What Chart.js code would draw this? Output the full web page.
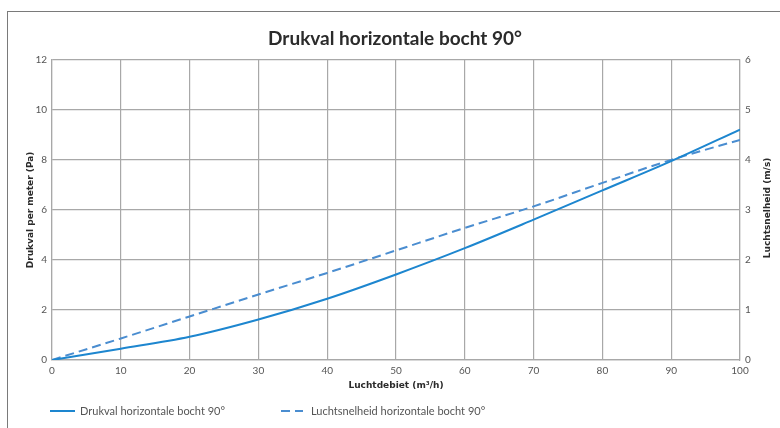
<!DOCTYPE html>
<html>
<head>
<meta charset="utf-8">
<script src="https://cdn.jsdelivr.net/npm/chart.js@4.4.1/dist/chart.umd.min.js"></script>
<style>
    html, body { margin: 0; padding: 0; background: #fff; }
    #wrap { position: relative; width: 780px; height: 428px; overflow: hidden; }
    #frame { position: absolute; left: 7px; top: 11px; width: 800px; height: 440px;
             border-left: 1.5px solid #7a7a7a; border-top: 1.5px solid #7a7a7a; pointer-events: none; }
</style>
</head>
<body>
<div id="wrap">
    <canvas id="chart" width="780" height="428"></canvas>
    <div id="frame"></div>
</div>
<script>
// air flow (m3/h)
const flow = [0, 10, 20, 30, 40, 50, 60, 70, 80, 90, 100];
// pressure drop per meter (Pa), left axis
const pressureDrop = [0, 0.45, 0.93, 1.62, 2.45, 3.42, 4.47, 5.61, 6.78, 7.95, 9.21];
// air velocity (m/s), right axis
const airSpeed = [0, 0.43, 0.87, 1.31, 1.74, 2.19, 2.64, 3.07, 3.54, 4.0, 4.40];

const chartTitle = 'Drukval horizontale bocht 90°';
const seriesNames = ['Drukval horizontale bocht 90°', 'Luchtsnelheid horizontale bocht 90°'];
const xTitle = 'Luchtdebiet (m³/h)';
const leftTitle = 'Drukval per meter (Pa)';
const rightTitle = 'Luchtsnelheid (m/s)';

const FONT = 'Lato, "Open Sans", sans-serif';
const AXIS_FONT = '"DejaVu Sans", sans-serif';
const gridColor = '#a8a8a8';

function toPoints(xs, ys) {
    return xs.map((x, i) => ({ x: x, y: ys[i] }));
}

// draws the legend under the chart and the right axis title (reading upwards)
const extras = {
    id: 'extras',
    afterDraw(chart) {
        const ctx = chart.ctx;
        const area = chart.chartArea;

        ctx.save();
        ctx.font = 'bold 9px ' + AXIS_FONT;
        ctx.fillStyle = '#2b2b2b';
        ctx.textAlign = 'center';
        ctx.textBaseline = 'middle';
        ctx.translate(768, (area.top + area.bottom) / 2 - 2);
        ctx.rotate(-Math.PI / 2);
        ctx.fillText(rightTitle, 0, 0);
        ctx.restore();

        const itemX = [50, 281];
        const y = 411;
        chart.data.datasets.forEach((ds, i) => {
            ctx.save();
            ctx.strokeStyle = ds.borderColor;
            ctx.lineWidth = 2;
            ctx.setLineDash(ds.borderDash || []);
            ctx.beginPath();
            ctx.moveTo(itemX[i], y);
            ctx.lineTo(itemX[i] + (i === 0 ? 25 : 22), y);
            ctx.stroke();
            ctx.setLineDash([]);
            ctx.font = '11px ' + FONT;
            ctx.fillStyle = '#555';
            ctx.textAlign = 'left';
            ctx.textBaseline = 'middle';
            ctx.fillText(ds.label, itemX[i] + 30, y);
            ctx.restore();
        });
    }
};

const ctx = document.getElementById('chart').getContext('2d');

const myChart = new Chart(ctx, {
    type: 'line',
    data: {
        datasets: [
            {
                label: seriesNames[0],
                data: toPoints(flow, pressureDrop),
                borderColor: '#1d86cf',
                borderWidth: 2,
                pointRadius: 0,
                cubicInterpolationMode: 'monotone',
                yAxisID: 'y'
            },
            {
                label: seriesNames[1],
                data: toPoints(flow, airSpeed),
                borderColor: '#4a8dd0',
                borderWidth: 2,
                borderDash: [9, 5],
                pointRadius: 0,
                cubicInterpolationMode: 'monotone',
                yAxisID: 'y1'
            }
        ]
    },
    options: {
        responsive: false,
        animation: false,
        events: [],
        layout: {
            padding: { left: 10, right: 0, top: 20, bottom: 30 }
        },
        plugins: {
            legend: { display: false },
            tooltip: { enabled: false },
            title: {
                display: true,
                text: chartTitle,
                color: '#2b2b2b',
                font: { family: FONT, size: 19, weight: 'bold' },
                padding: { top: 7, bottom: 10 }
            }
        },
        scales: {
            x: {
                type: 'linear',
                min: 0,
                max: 100,
                afterFit: (scale) => { scale.height = 38; },
                ticks: {
                    stepSize: 10,
                    color: '#555',
                    padding: 5,
                    font: { family: FONT, size: 10 }
                },
                grid: { color: gridColor, lineWidth: 1.2, drawTicks: false },
                border: { color: gridColor, width: 1.2 },
                title: {
                    display: true,
                    text: xTitle,
                    color: '#2b2b2b',
                    font: { family: AXIS_FONT, size: 9, weight: 'bold' },
                    padding: { top: 0, bottom: 7 }
                }
            },
            y: {
                position: 'left',
                min: 0,
                max: 12,
                afterFit: (scale) => { scale.width = 42; },
                ticks: {
                    stepSize: 2,
                    color: '#555',
                    padding: 5,
                    font: { family: FONT, size: 10 }
                },
                grid: { color: gridColor, lineWidth: 1.2, drawTicks: false },
                border: { color: gridColor, width: 1.2 },
                title: {
                    display: true,
                    text: leftTitle,
                    color: '#2b2b2b',
                    font: { family: AXIS_FONT, size: 9, weight: 'bold' },
                    padding: { top: 15, bottom: 0 }
                }
            },
            y1: {
                position: 'right',
                min: 0,
                max: 6,
                afterFit: (scale) => { scale.width = 40; },
                ticks: {
                    stepSize: 1,
                    color: '#555',
                    padding: 5,
                    font: { family: FONT, size: 10 }
                },
                grid: { drawOnChartArea: false, drawTicks: false },
                border: { color: gridColor, width: 1.2 }
            }
        }
    },
    plugins: [extras]
});
</script>
</body>
</html>
